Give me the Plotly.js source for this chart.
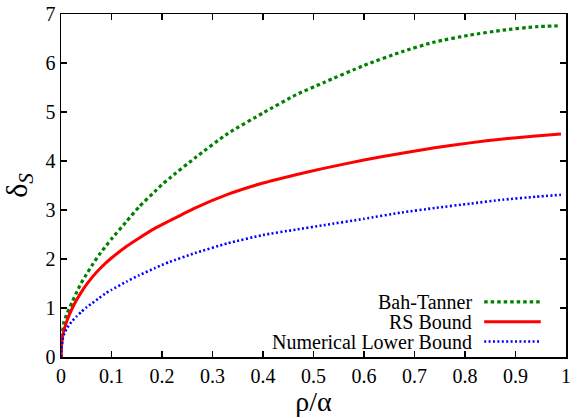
<!DOCTYPE html>
<html>
<head>
<meta charset="utf-8">
<script src="https://cdn.plot.ly/plotly-3.0.1.min.js"></script>
<style>
html,body{margin:0;padding:0;background:#fff;}
#chart{width:585px;height:418px;}
#chart svg text, #chart svg tspan{font-family:"Liberation Serif",serif !important;}
</style>
</head>
<body>
<div id="chart"></div>
<script>
const rho = [0, 0.001, 0.003, 0.006, 0.0125, 0.0225, 0.03, 0.04, 0.05, 0.062, 0.075, 0.09, 0.1, 0.13, 0.155, 0.185, 0.2, 0.215, 0.265, 0.33, 0.4, 0.465, 0.52, 0.6, 0.675, 0.74, 0.81, 0.875, 0.94, 0.99];
const bahTanner = [0, 0.3, 0.5, 0.72, 0.9, 1.13, 1.3, 1.51, 1.68, 1.88, 2.08, 2.28, 2.41, 2.77, 3.07, 3.37, 3.52, 3.65, 4.06, 4.56, 4.98, 5.35, 5.6, 5.95, 6.23, 6.43, 6.57, 6.67, 6.74, 6.76];
const rsBound = [0, 0.22, 0.41, 0.55, 0.76, 1.0, 1.15, 1.32, 1.47, 1.63, 1.78, 1.93, 2.02, 2.26, 2.43, 2.62, 2.7, 2.78, 3.04, 3.32, 3.55, 3.72, 3.85, 4.02, 4.16, 4.27, 4.37, 4.45, 4.51, 4.55];
const numLower = [0, 0.18, 0.35, 0.46, 0.6, 0.74, 0.82, 0.92, 1.01, 1.1, 1.2, 1.31, 1.37, 1.54, 1.67, 1.81, 1.88, 1.94, 2.12, 2.32, 2.49, 2.6, 2.69, 2.82, 2.95, 3.04, 3.13, 3.21, 3.27, 3.31];
const seriesNames = ["Bah-Tanner", "RS Bound", "Numerical Lower Bound"];
const xTicks = [0, 0.1, 0.2, 0.3, 0.4, 0.5, 0.6, 0.7, 0.8, 0.9, 1];
const xTickText = ["0", "0.1", "0.2", "0.3", "0.4", "0.5", "0.6", "0.7", "0.8", "0.9", "1"];
const yTicks = [0, 1, 2, 3, 4, 5, 6, 7];

const FONT = "Liberation Serif";
const ser = s => '<span style="font-family:\'Liberation Serif\',serif">' + s + '</span>';
const lineStyles = [
  {color: "#008000", width: 3.2, dash: "3.5px,3px"},
  {color: "#ff0000", width: 3, dash: "solid"},
  {color: "#0000ff", width: 2.6, dash: "2px,2.4px"}
];
const values = [bahTanner, rsBound, numLower];

const traces = values.map((v, i) => ({
  x: rho, y: v, type: "scatter", mode: "lines", name: seriesNames[i],
  line: Object.assign({shape: "spline", smoothing: 0.5}, lineStyles[i]),
  showlegend: false, hoverinfo: "skip"
}));

// gnuplot-style key: text on the left, sample on the right
const keyRows = [0.161, 0.103, 0.045];
const annotations = seriesNames.map((n, i) => ({
  xref: "paper", yref: "paper", x: 0.818, y: keyRows[i], xanchor: "right", yanchor: "middle",
  text: ser(n), showarrow: false, font: {family: FONT, size: 20, color: "black"}
}));
const shapes = seriesNames.map((n, i) => ({
  type: "line", xref: "paper", yref: "paper", x0: 0.838, x1: 0.95, y0: keyRows[i], y1: keyRows[i],
  line: {color: lineStyles[i].color, width: lineStyles[i].width, dash: lineStyles[i].dash}
}));

const axisCommon = {
  showline: true, linecolor: "#000", linewidth: 1.5, mirror: "allticks",
  ticks: "inside", ticklen: 6, tickwidth: 1.2, tickcolor: "#000",
  showgrid: false, zeroline: false,
  tickfont: {family: FONT, size: 20, color: "black"}
};

const layout = {
  width: 585, height: 418,
  margin: {l: 61, r: 19, t: 14, b: 61},
  paper_bgcolor: "#fff", plot_bgcolor: "#fff",
  showlegend: false,
  font: {family: FONT, size: 20, color: "black"},
  xaxis: Object.assign({}, axisCommon, {
    range: [0, 1], tickvals: xTicks, ticktext: xTickText.map(ser),
    title: {text: ser("ρ/α"), font: {family: FONT, size: 28, color: "black"}, standoff: 2}
  }),
  yaxis: Object.assign({}, axisCommon, {
    range: [0, 7], tickvals: yTicks, ticktext: yTicks.map(v => ser(String(v))),
    title: {text: ser("δ<sub><i>S</i></sub>"), font: {family: FONT, size: 30, color: "black"}, standoff: 10}
  }),
  annotations: annotations,
  shapes: shapes
};

Plotly.newPlot("chart", traces, layout, {staticPlot: true, displayModeBar: false});
</script>
</body>
</html>
